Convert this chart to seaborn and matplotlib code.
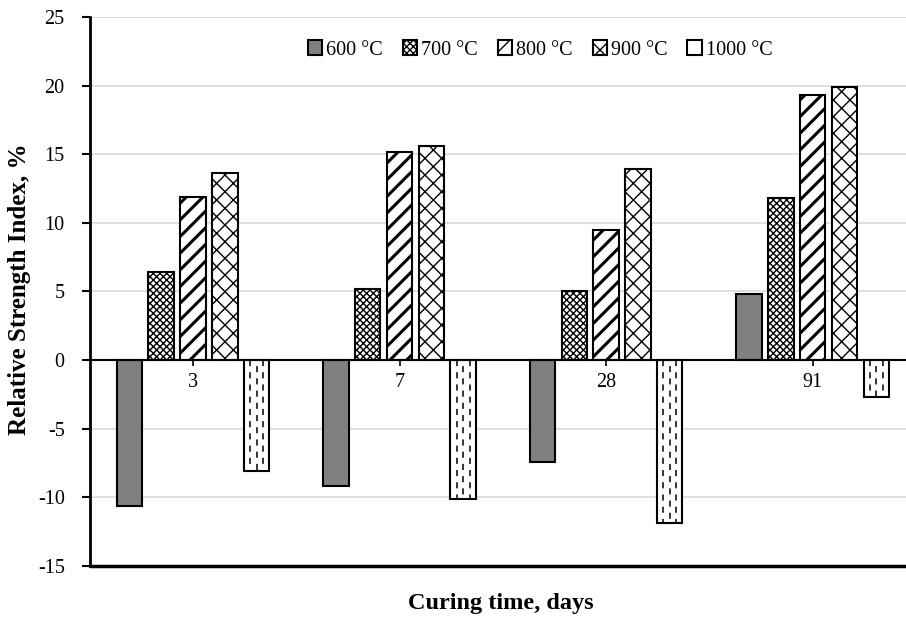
import pandas as pd
import matplotlib
matplotlib.use("Agg")
import matplotlib.pyplot as plt
import seaborn as sns

sns.set_theme(style="white")
plt.rcParams["font.family"] = ["Liberation Serif", "DejaVu Serif"]
plt.rcParams["hatch.linewidth"] = 1.0
for k in ["text.color", "axes.labelcolor", "xtick.color", "ytick.color"]:
    plt.rcParams[k] = "black"

# dati
days = ["3", "7", "28", "91"]
temps = ["600 °C", "700 °C", "800 °C", "900 °C", "1000 °C"]
rsi_600 = [-10.6, -9.2, -7.4, 4.8]
rsi_700 = [6.4, 5.2, 5.0, 11.8]
rsi_800 = [11.9, 15.2, 9.5, 19.3]
rsi_900 = [13.6, 15.6, 13.9, 19.9]
rsi_1000 = [-8.1, -10.1, -11.9, -2.7]
y_ticks = [-15, -10, -5, 0, 5, 10, 15, 20, 25]

values = [rsi_600, rsi_700, rsi_800, rsi_900, rsi_1000]
rows = []
for t, vals in zip(temps, values):
    for d, v in zip(days, vals):
        rows.append({"day": d, "temp": t, "rsi": v})
df = pd.DataFrame(rows)

fig = plt.figure(figsize=(9.06, 6.21), dpi=100)
ax = fig.add_axes([0.099, 0.0886, 0.912, 0.884])

sns.barplot(data=df, x="day", y="rsi", hue="temp", order=days, hue_order=temps,
            width=0.77, gap=0.2, legend=False, ax=ax,
            edgecolor="black", linewidth=1.5)

hatches = [None, "xxxxx", "//", "xx", None]
faces = ["#808080", "white", "white", "white", "white"]
for cont, h, fc in zip(ax.containers, hatches, faces):
    for bar in cont:
        bar.set_facecolor(fc)
        bar.set_edgecolor("black")
        if h:
            bar.set_hatch(h)
        if h == "//" and hasattr(bar, "set_hatch_linewidth"):
            bar.set_hatch_linewidth(2.2)

# 1000 °C: linee verticali tratteggiate dentro le barre
for bar in ax.containers[4]:
    x0, w, hgt = bar.get_x(), bar.get_width(), bar.get_height()
    for frac, off in [(0.25, 0), (0.5, 4), (0.75, 0)]:
        ax.plot([x0 + frac * w] * 2, [0, hgt], color="black", lw=1.1,
                linestyle=(off, (4, 4)), zorder=bar.get_zorder() + 0.1)

ax.set_xlim(-0.5, len(days) - 0.5)
ax.set_ylim(-15, 25)
ax.set_yticks(y_ticks)
ax.set_yticklabels([str(v) for v in y_ticks], fontsize=14.5)
ax.yaxis.grid(True, color="#d9d9d9", linewidth=1.2)
ax.set_axisbelow(True)

ax.spines["top"].set_visible(False)
ax.spines["right"].set_visible(False)
ax.spines["left"].set_linewidth(2)
ax.spines["left"].set_color("black")
ax.spines["bottom"].set_position(("data", 0))
ax.spines["bottom"].set_linewidth(1.5)
ax.spines["bottom"].set_color("black")
ax.axhline(-15, color="black", linewidth=2.5, clip_on=False, zorder=5)

ax.tick_params(axis="y", direction="out", length=6, width=1.5, left=True, pad=12)
ax.tick_params(axis="x", direction="out", length=4, width=1.2, bottom=True, labelsize=14.5, pad=5)
ax.set_xlabel("")
ax.set_ylabel("")
fig.text(0.022, 0.535, "Relative Strength Index, %", rotation=90, ha="center", va="center",
         fontsize=18, fontweight="bold")
fig.text(0.553, 0.028, "Curing time, days", ha="center", va="center",
         fontsize=17.5, fontweight="bold")

ax.legend(ax.containers, temps, loc="center", bbox_to_anchor=(0.545, 0.94), ncol=5,
          frameon=False, fontsize=14.5, handlelength=0.7, handleheight=0.7,
          handletextpad=0.2, columnspacing=1.0)

fig.savefig("out.png", dpi=100)
